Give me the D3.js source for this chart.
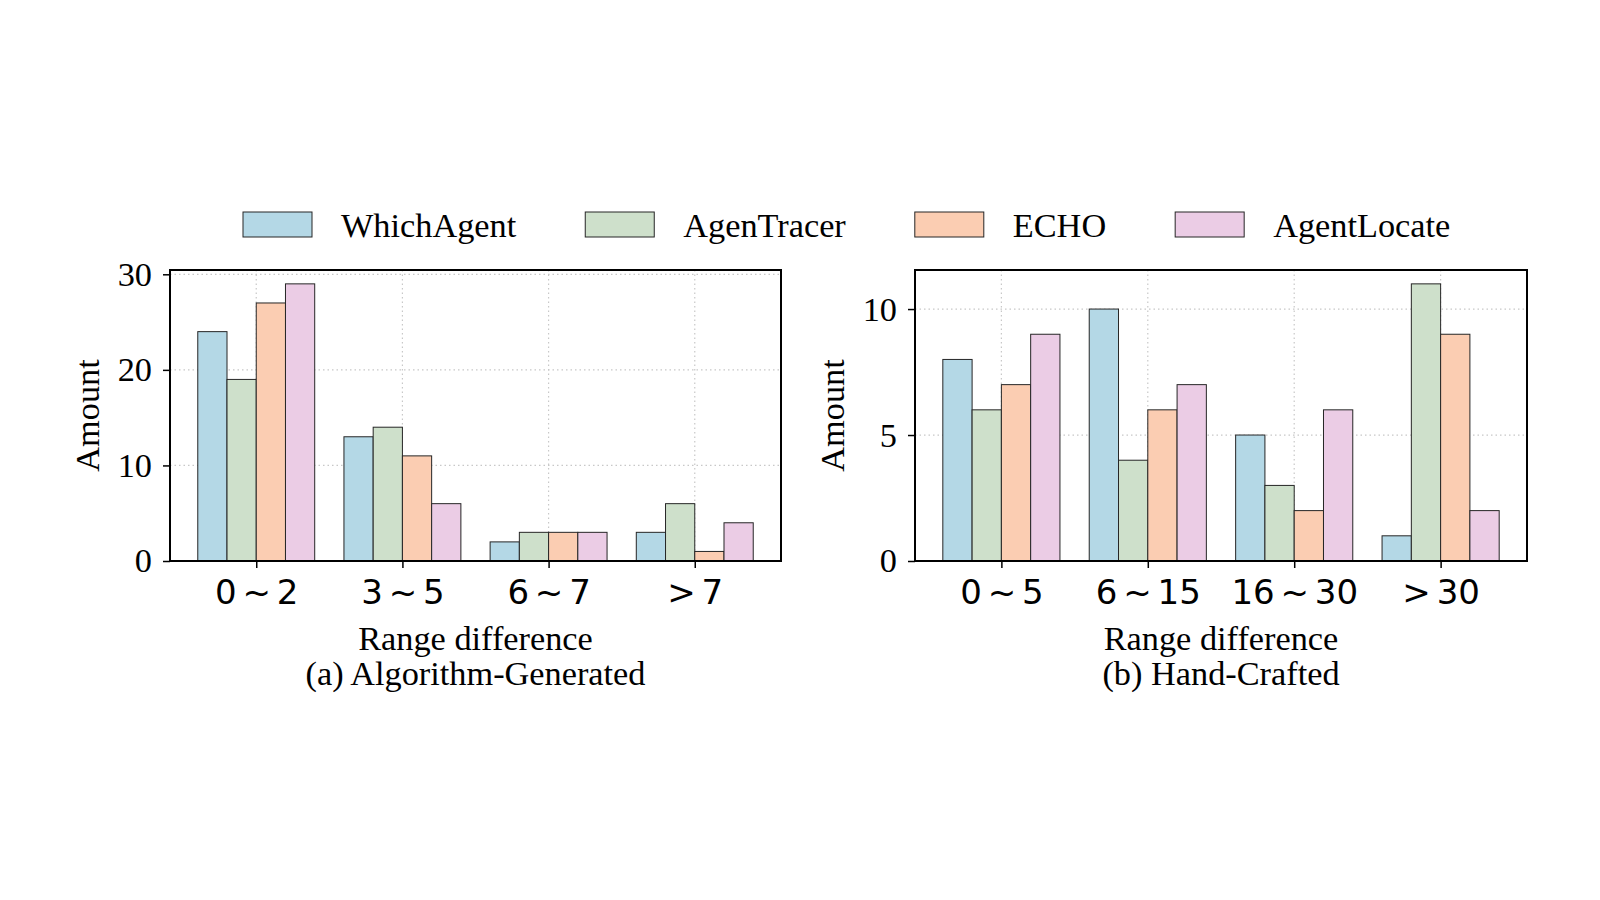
<!DOCTYPE html>
<html lang="en">
<head>
    <meta charset="utf-8">
    <script src="https://cdn.jsdelivr.net/npm/d3@7/dist/d3.min.js"></script>
    <style>
        body { margin: 0; background: #fff; }
        svg { display: block; }
        .serif { font-family: "Liberation Serif", "Times New Roman", serif; fill: #000; }
        .sans { font-family: "DejaVu Sans", sans-serif; fill: #000; }
    </style>
</head>
<body>
    <div id="chart"></div>
    <script>
        // legend / series
        const methods = ["WhichAgent", "AgenTracer", "ECHO", "AgentLocate"];
        const colors = ["#b4d8e6", "#cee0cb", "#fbcdb2", "#ebcce5"];

        // (a) Algorithm-Generated
        const catsA = ["0 ~ 2", "3 ~ 5", "6 ~ 7", "> 7"];
        const whichAgentA = [24, 13, 2, 3];
        const agenTracerA = [19, 14, 3, 6];
        const echoA = [27, 11, 3, 1];
        const agentLocateA = [29, 6, 3, 4];
        const ticksA = [0, 10, 20, 30];

        // (b) Hand-Crafted
        const catsB = ["0 ~ 5", "6 ~ 15", "16 ~ 30", "> 30"];
        const whichAgentB = [8, 10, 5, 1];
        const agenTracerB = [6, 4, 3, 11];
        const echoB = [7, 6, 2, 9];
        const agentLocateB = [9, 7, 6, 2];
        const ticksB = [0, 5, 10];

        const W = 1600, H = 900;
        const svg = d3.select("#chart").append("svg")
            .attr("width", W).attr("height", H);

        const fontSize = 34.3;
        const barW = 0.2;

        function panel(opts) {
            const { left, right, top, bottom, cats, series, ticks, title } = opts;
            const maxV = d3.max(series.flat());
            const x = d3.scaleLinear().domain([-0.59, cats.length - 1 + 0.59]).range([left, right]);
            const y = d3.scaleLinear().domain([0, maxV * 1.05]).range([bottom, top]);
            const g = svg.append("g");

            // grid
            g.selectAll(".hgrid").data(ticks).join("line")
                .attr("x1", left).attr("x2", right)
                .attr("y1", d => y(d)).attr("y2", d => y(d))
                .attr("stroke", "#c8c8c8").attr("stroke-width", 1.2)
                .attr("stroke-dasharray", "1.5,3");
            g.selectAll(".vgrid").data(d3.range(cats.length)).join("line")
                .attr("x1", d => x(d)).attr("x2", d => x(d))
                .attr("y1", top).attr("y2", bottom)
                .attr("stroke", "#c8c8c8").attr("stroke-width", 1.2)
                .attr("stroke-dasharray", "1.5,3");

            // bars
            series.forEach((vals, j) => {
                g.append("g").selectAll("rect").data(vals).join("rect")
                    .attr("x", (d, i) => x(i + (j - 1.5) * barW - barW / 2))
                    .attr("width", x(barW) - x(0))
                    .attr("y", d => y(d))
                    .attr("height", d => y(0) - y(d))
                    .attr("fill", colors[j])
                    .attr("stroke", "#262626").attr("stroke-width", 1);
            });

            // frame
            g.append("rect")
                .attr("x", left).attr("y", top)
                .attr("width", right - left).attr("height", bottom - top)
                .attr("fill", "none").attr("stroke", "#000").attr("stroke-width", 2);

            // y axis
            const ya = g.append("g").attr("transform", `translate(${left},0)`)
                .call(d3.axisLeft(y).tickValues(ticks).tickSize(7).tickPadding(11));
            ya.select(".domain").remove();
            ya.selectAll("line").attr("stroke", "#000").attr("stroke-width", 1.5);
            ya.selectAll("text").attr("class", "serif")
                .style("font-size", fontSize + "px").attr("font-family", null);

            // x axis
            const xa = g.append("g").attr("transform", `translate(0,${bottom})`)
                .call(d3.axisBottom(x).tickValues(d3.range(cats.length))
                    .tickFormat(i => cats[i]).tickSize(7).tickPadding(12));
            xa.select(".domain").remove();
            xa.selectAll("line").attr("stroke", "#000").attr("stroke-width", 1.5);
            xa.selectAll("text").attr("class", "sans")
                .style("font-size", "34px").style("word-spacing", "-5px")
                .attr("font-family", null);

            const cx = (left + right) / 2;
            g.append("text").attr("class", "serif")
                .attr("transform", `translate(${left - 83},${(top + bottom) / 2}) rotate(-90)`)
                .attr("text-anchor", "middle").attr("dy", "0.35em")
                .style("font-size", fontSize + "px").text("Amount");
            g.append("text").attr("class", "serif")
                .attr("x", cx).attr("y", 638).attr("dy", "0.35em")
                .attr("text-anchor", "middle")
                .style("font-size", fontSize + "px").text("Range difference");
            g.append("text").attr("class", "serif")
                .attr("x", cx).attr("y", 673).attr("dy", "0.35em")
                .attr("text-anchor", "middle")
                .style("font-size", fontSize + "px").text(title);
        }

        panel({
            left: 170, right: 781, top: 270, bottom: 561,
            cats: catsA, series: [whichAgentA, agenTracerA, echoA, agentLocateA],
            ticks: ticksA, title: "(a) Algorithm-Generated"
        });
        panel({
            left: 915, right: 1527, top: 270, bottom: 561,
            cats: catsB, series: [whichAgentB, agenTracerB, echoB, agentLocateB],
            ticks: ticksB, title: "(b) Hand-Crafted"
        });

        // legend
        const leg = svg.append("g");
        let lx = 243;
        methods.forEach((m, i) => {
            leg.append("rect")
                .attr("x", lx).attr("y", 212)
                .attr("width", 69).attr("height", 25)
                .attr("fill", colors[i]).attr("stroke", "#262626").attr("stroke-width", 1);
            const t = leg.append("text").attr("class", "serif")
                .attr("x", lx + 98).attr("y", 225).attr("dy", "0.35em")
                .style("font-size", fontSize + "px").text(m);
            lx = lx + 98 + t.node().getComputedTextLength() + 69;
        });
    </script>
</body>
</html>
